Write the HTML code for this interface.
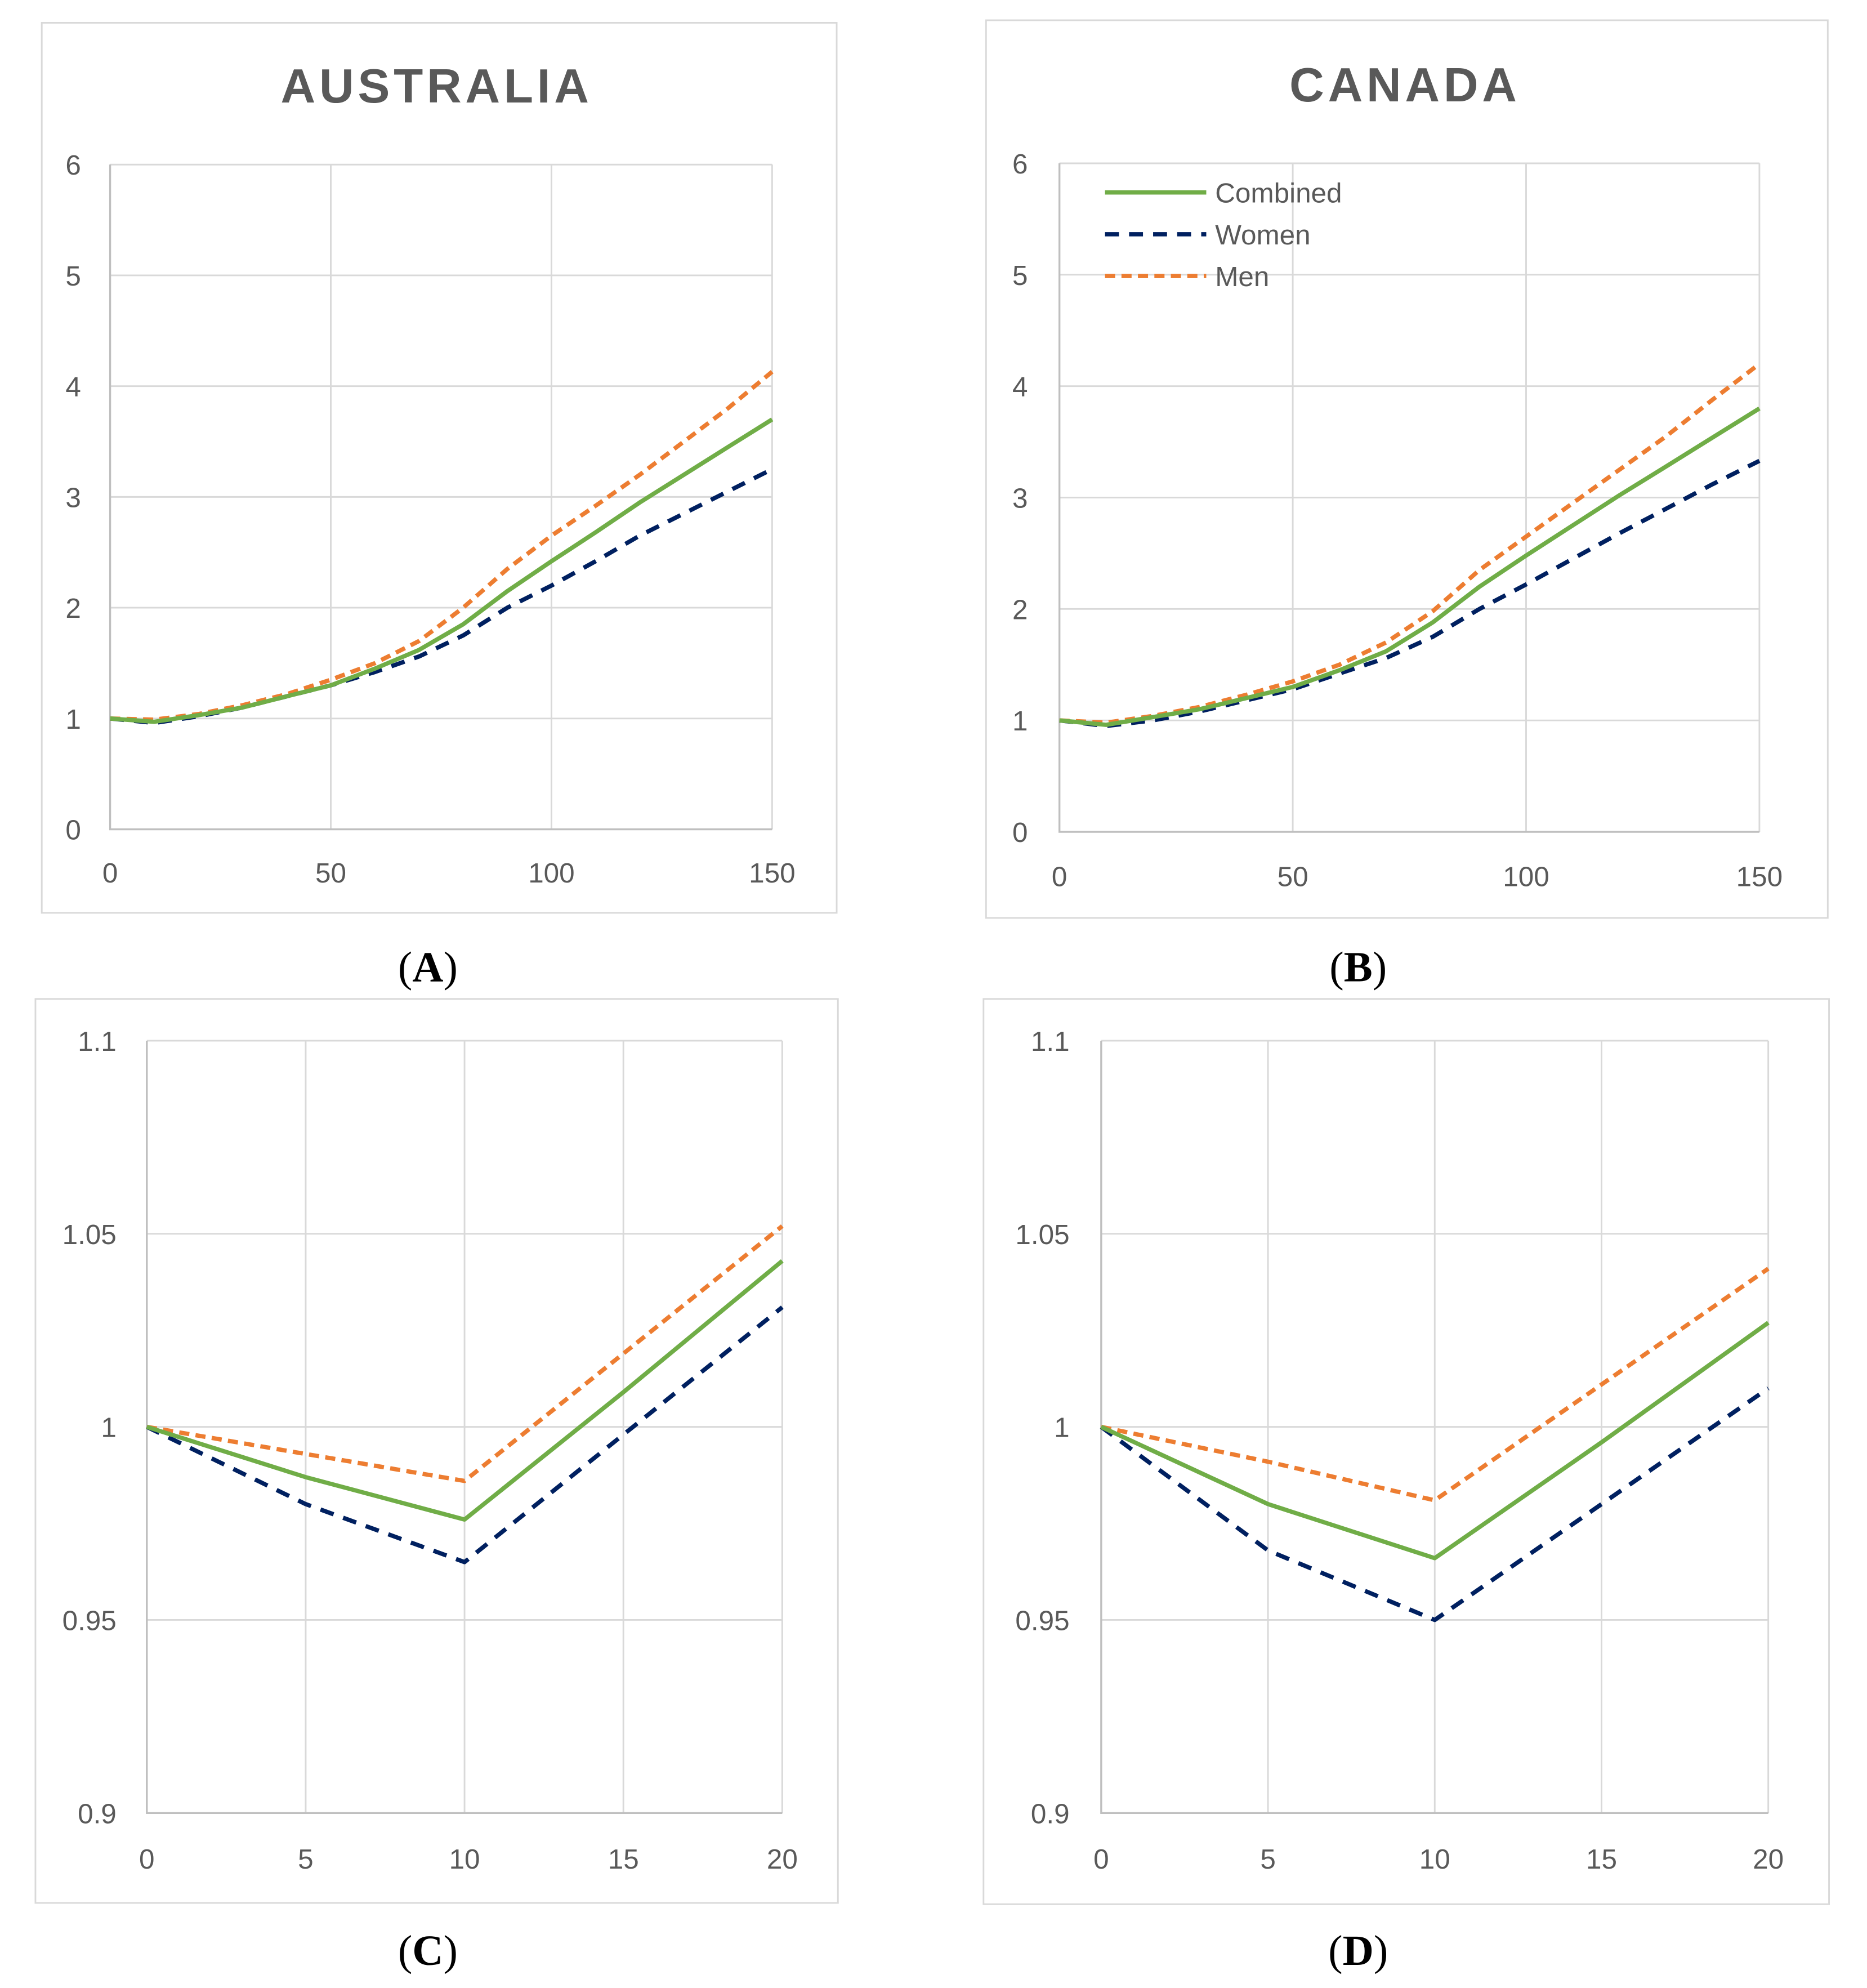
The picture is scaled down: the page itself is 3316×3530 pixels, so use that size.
<!DOCTYPE html>
<html><head><meta charset="utf-8"><style>
html,body{margin:0;padding:0;background:#fff;width:3316px;height:3530px;overflow:hidden}
svg{display:block}
text{font-family:"Liberation Sans",sans-serif}
text.cap{font-family:"Liberation Serif",serif}
</style></head><body>
<svg id="fig" width="3316" height="3530" viewBox="0 0 1475 1570.2" preserveAspectRatio="none" xmlns="http://www.w3.org/2000/svg"></svg>
<script>
const xA = [0,10,20,30,40,50,60,70,80,90,100,110,120,130,140,150];
const aCombined = [1,0.97,1.03,1.1,1.2,1.3,1.45,1.62,1.85,2.15,2.42,2.68,2.95,3.2,3.45,3.7];
const aWomen = [1,0.96,1.02,1.1,1.2,1.3,1.42,1.56,1.75,2.0,2.2,2.42,2.65,2.85,3.05,3.25];
const aMen = [1,0.99,1.04,1.12,1.22,1.35,1.5,1.7,2.0,2.35,2.65,2.92,3.2,3.5,3.8,4.13];
const bCombined = [1,0.96,1.03,1.1,1.2,1.3,1.45,1.62,1.88,2.2,2.48,2.75,3.02,3.28,3.54,3.8];
const bWomen = [1,0.95,1.0,1.08,1.18,1.28,1.42,1.56,1.75,2.0,2.22,2.45,2.68,2.9,3.12,3.33];
const bMen = [1,0.98,1.04,1.12,1.23,1.35,1.5,1.7,1.98,2.35,2.65,2.95,3.25,3.55,3.88,4.2];
const xC = [0,5,10,15,20];
const cCombined = [1,0.987,0.976,1.009,1.043];
const cWomen = [1,0.98,0.965,0.998,1.031];
const cMen = [1,0.993,0.986,1.019,1.052];
const dCombined = [1,0.98,0.966,0.996,1.027];
const dWomen = [1,0.968,0.95,0.98,1.01];
const dMen = [1,0.991,0.981,1.011,1.041];
const yTicksAB = [0,1,2,3,4,5,6];
const xTicksAB = [0,50,100,150];
const yTicksCD = [0.9,0.95,1,1.05,1.1];
const yLabelsCD = ["0.9","0.95","1","1.05","1.1"];
const xTicksCD = [0,5,10,15,20];

const NS="http://www.w3.org/2000/svg";
const svg=document.getElementById('fig');
function mk(tag,attrs,parent){const e=document.createElementNS(NS,tag);for(const k in attrs)e.setAttribute(k,attrs[k]);(parent||svg).appendChild(e);return e;}

function panel(o){
  const g=mk('g',{});
  
  
  const fr=mk('rect',{x:o.fx,y:o.fy,width:o.fw,height:o.fh,fill:'#fff',stroke:'#d9d9d9','stroke-width':1.3},g);
  
  
  const sx=v=>o.px0+(v-o.xmin)/(o.xmax-o.xmin)*(o.px1-o.px0);
  const sy=v=>o.py1-(v-o.ymin)/(o.ymax-o.ymin)*(o.py1-o.py0);
  o.yt.forEach((t,i)=>{
    const y=sy(t);
    const l=mk('line',{x1:o.px0,x2:o.px1,y1:y,y2:y,stroke:'#d9d9d9','stroke-width':1.3},g);
    
    
    const tx=mk('text',{x:o.ylx,y:y+8,'text-anchor':'end','font-size':22,fill:'#595959'},g);
    tx.textContent=o.yl?o.yl[i]:String(t);
    
    
  });
  o.xt.forEach(t=>{
    const x=sx(t);
    const l=mk('line',{x1:x,x2:x,y1:o.py0,y2:o.py1,stroke:'#d9d9d9','stroke-width':1.3},g);
    
    
    const tx=mk('text',{x:x,y:o.xly,'text-anchor':'middle','font-size':22,fill:'#595959'},g);
    tx.textContent=String(t);
    
    
  });
  const ax=mk('path',{d:`M${o.px0},${o.py0}V${o.py1}H${o.px1}`,fill:'none',stroke:'#bfbfbf','stroke-width':1.5},g);
  
  
  const series=[
    {d:o.women,c:'#002060',dash:'11,8',n:'women-line'},
    {d:o.men,c:'#ed7d31',dash:'8,5',n:'men-line'},
    {d:o.comb,c:'#70ad47',dash:'',n:'combined-line'}];
  series.forEach(s=>{
    const pts=o.xs.map((x,i)=>sx(x).toFixed(1)+','+sy(s.d[i]).toFixed(1)).join(' ');
    const p=mk('polyline',{points:pts,fill:'none',stroke:s.c,'stroke-width':3.4,'stroke-linejoin':'round'},g);
    if(s.dash)p.setAttribute('stroke-dasharray',s.dash);
    
    
  });
  if(o.title){
    const t=mk('text',{x:o.tx,y:o.ty,'text-anchor':'middle','font-size':38,'font-weight':'bold',fill:'#595959','letter-spacing':3},g);
    t.textContent=o.title;
    
    
  }
  const c=mk('text',{x:o.cx,y:o.cy,'text-anchor':'middle','font-size':34,fill:'#000','class':'cap'},g);
  c.innerHTML='(<tspan font-weight="bold">'+o.cap+'</tspan>)';
  
  
  return g;
}

panel({name:'panel-a-australia',fx:33,fy:18,fw:628,fh:703,px0:87,px1:610,py0:130,py1:655,xmin:0,xmax:150,ymin:0,ymax:6,
  yt:yTicksAB,xt:xTicksAB,ylx:64,xly:697,xs:xA,comb:aCombined,women:aWomen,men:aMen,title:'AUSTRALIA',tx:345,ty:81,cap:'A',cx:338,cy:775});
const pb=panel({name:'panel-b-canada',fx:779,fy:16,fw:665,fh:709,px0:837,px1:1390,py0:129,py1:657,xmin:0,xmax:150,ymin:0,ymax:6,
  yt:yTicksAB,xt:xTicksAB,ylx:812,xly:700,xs:xA,comb:bCombined,women:bWomen,men:bMen,title:'CANADA',tx:1110,ty:80,cap:'B',cx:1073,cy:775});
panel({name:'panel-c',fx:28,fy:789,fw:634,fh:714,px0:116,px1:618,py0:822,py1:1432,xmin:0,xmax:20,ymin:0.9,ymax:1.1,
  yt:yTicksCD,yl:yLabelsCD,xt:xTicksCD,ylx:92,xly:1476,xs:xC,comb:cCombined,women:cWomen,men:cMen,cap:'C',cx:338,cy:1552});
panel({name:'panel-d',fx:777,fy:789,fw:668,fh:715,px0:870,px1:1397,py0:822,py1:1432,xmin:0,xmax:20,ymin:0.9,ymax:1.1,
  yt:yTicksCD,yl:yLabelsCD,xt:xTicksCD,ylx:845,xly:1476,xs:xC,comb:dCombined,women:dWomen,men:dMen,cap:'D',cx:1073,cy:1552});

const lg=mk('g',{},pb);


[['Combined','#70ad47','',152],['Women','#002060','11,8',185],['Men','#ed7d31','8,5',218]].forEach(e=>{
  const l=mk('line',{x1:873,x2:953,y1:e[3],y2:e[3],stroke:e[1],'stroke-width':3.4},lg);
  if(e[2])l.setAttribute('stroke-dasharray',e[2]);
  
  
  const t=mk('text',{x:960,y:e[3]+8,'font-size':22,fill:'#595959'},lg);
  t.textContent=e[0];
  
  
});
</script>
</body></html>
